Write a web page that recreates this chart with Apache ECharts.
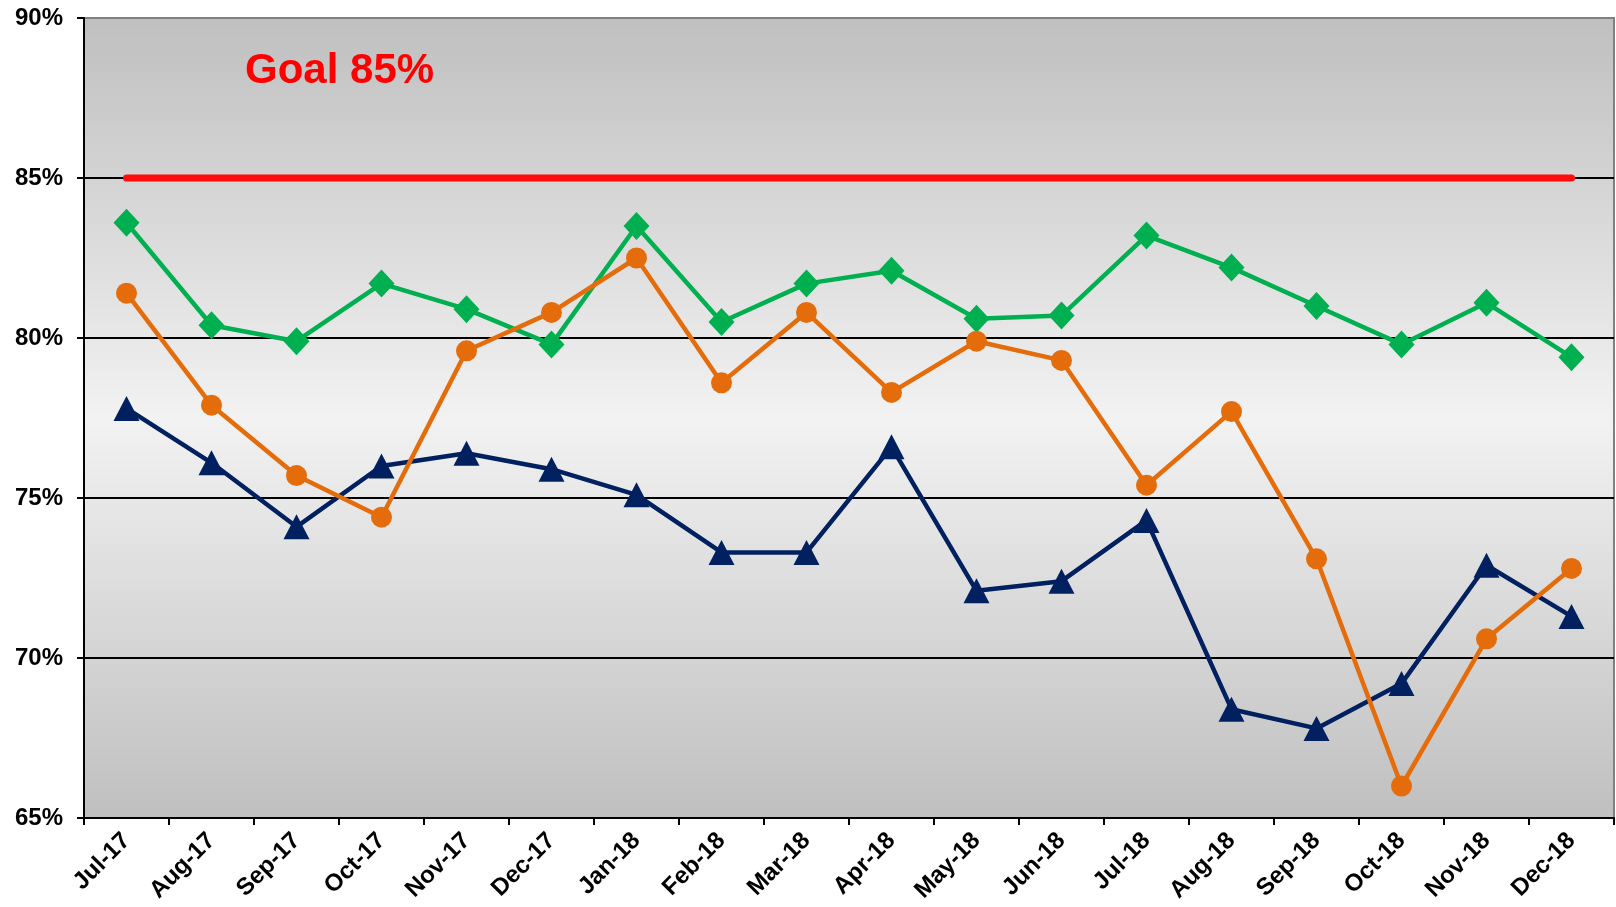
<!DOCTYPE html>
<html>
<head>
<meta charset="utf-8">
<script src="https://cdn.jsdelivr.net/npm/echarts@6/dist/echarts.min.js"></script>
<style>
html,body{margin:0;padding:0;background:#fff;}
#chart{width:1616px;height:907px;}
</style>
</head>
<body>
<div id="chart"></div>
<script>
const categories = ['Jul-17','Aug-17','Sep-17','Oct-17','Nov-17','Dec-17','Jan-18','Feb-18','Mar-18','Apr-18','May-18','Jun-18','Jul-18','Aug-18','Sep-18','Oct-18','Nov-18','Dec-18'];
const greenValues  = [83.6,80.4,79.9,81.7,80.9,79.8,83.5,80.5,81.7,82.1,80.6,80.7,83.2,82.2,81.0,79.8,81.1,79.4];
const orangeValues = [81.4,77.9,75.7,74.4,79.6,80.8,82.5,78.6,80.8,78.3,79.9,79.3,75.4,77.7,73.1,66.0,70.6,72.8];
const navyValues   = [77.8,76.1,74.1,76.0,76.4,75.9,75.1,73.3,73.3,76.6,72.1,72.4,74.3,68.4,67.8,69.2,72.9,71.3];
const goalValues   = [85,85,85,85,85,85,85,85,85,85,85,85,85,85,85,85,85,85];
const yTicks = {min:65, max:90, interval:5};
const goalLabel = 'Goal 85%';

const chart = echarts.init(document.getElementById('chart'), null, {renderer:'canvas'});
const FONT = 'Liberation Sans, Arial, sans-serif';
chart.setOption({
  animation:false,
  backgroundColor:'#ffffff',
  grid:{
    left:84, right:2, top:18, bottom:89,
    containLabel:false,
    outerBoundsMode:'none',
    show:true,
    borderColor:'#808080',
    borderWidth:2,
    backgroundColor:{type:'linear',x:0,y:0,x2:0,y2:1,colorStops:[
      {offset:0,color:'#bfbfbf'},
      {offset:0.5,color:'#f2f2f2'},
      {offset:1,color:'#bfbfbf'}
    ]}
  },
  xAxis:{
    type:'category',
    data:categories,
    boundaryGap:true,
    axisLine:{show:true,lineStyle:{color:'#000',width:2}},
    axisTick:{show:true,alignWithLabel:false,length:7,inside:false,lineStyle:{color:'#000',width:2}},
    axisLabel:{rotate:45,interval:0,margin:19,fontFamily:FONT,fontWeight:'bold',fontSize:24,color:'#000'},
    splitLine:{show:false}
  },
  yAxis:{
    type:'value',
    min:yTicks.min, max:yTicks.max, interval:yTicks.interval,
    axisLine:{show:true,lineStyle:{color:'#000',width:2}},
    axisTick:{show:true,length:7,lineStyle:{color:'#000',width:2}},
    axisLabel:{formatter:'{value}%',margin:21,fontFamily:FONT,fontWeight:'bold',fontSize:24,color:'#000'},
    splitLine:{show:true,lineStyle:{color:['#000','#000','#000','#000','#000','#808080'],width:2}}
  },
  graphic:[{
    type:'text',
    style:{x:245,y:71,text:goalLabel,fill:'#ff0000',font:'bold 42px '+FONT,verticalAlign:'middle',align:'left'},
    z:100
  }],
  series:[
    {
      name:'Goal',type:'line',data:goalValues,showSymbol:false,symbol:'none',
      lineStyle:{color:'#ff0d0d',width:7,cap:'round'},z:3
    },
    {
      name:'Green',type:'line',data:greenValues,symbol:'diamond',symbolSize:[26,28],
      itemStyle:{color:'#00b050'},lineStyle:{color:'#00b050',width:4.5},z:4
    },
    {
      name:'Navy',type:'line',data:navyValues,symbol:'triangle',symbolSize:[26,25],
      itemStyle:{color:'#002060'},lineStyle:{color:'#002060',width:4.5},z:5
    },
    {
      name:'Orange',type:'line',data:orangeValues,symbol:'circle',symbolSize:21,
      itemStyle:{color:'#e46c0a'},lineStyle:{color:'#e46c0a',width:4.5},z:6
    }
  ]
});
</script>
</body>
</html>
